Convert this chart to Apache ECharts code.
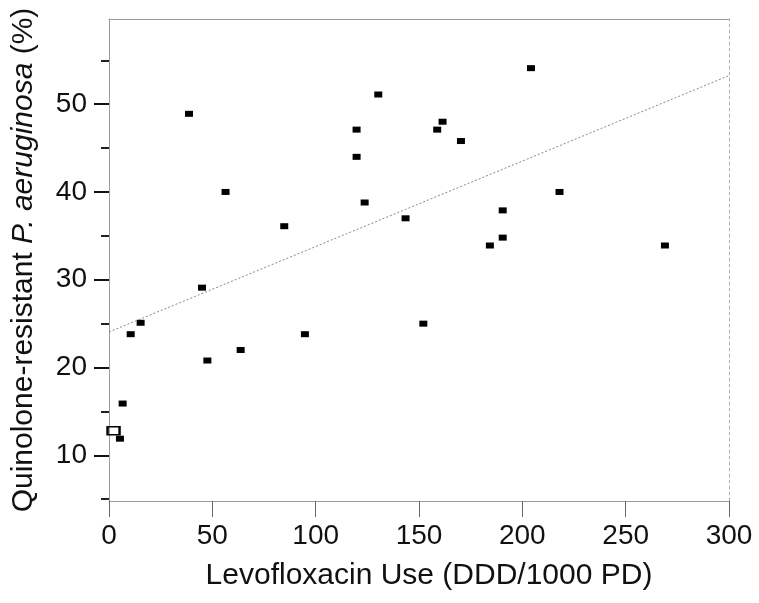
<!DOCTYPE html>
<html>
<head>
<meta charset="utf-8">
<script src="https://cdn.jsdelivr.net/npm/echarts@6/dist/echarts.min.js"></script>
<style>
html,body{margin:0;padding:0;background:#fff;}
#chart{width:759px;height:603px;}
</style>
</head>
<body>
<div id="chart"></div>
<script>
// Levofloxacin use (DDD/1000 PD) per hospital
const levoUse = [38.7, 56.4, 84.8, 45.0, 119.8, 119.8, 123.7, 130.3, 204.2, 161.4, 158.8, 170.3, 218.0,
  143.5, 190.5, 190.5, 184.3, 269.0, 152.1, 15.3, 10.5, 47.6, 63.7, 94.8, 6.6, 5.3];
// Quinolone-resistant P. aeruginosa (%)
const resistance = [48.9, 40.0, 36.1, 29.1, 47.1, 44.0, 38.8, 51.1, 54.1, 48.0, 47.1, 45.8, 40.0,
  37.0, 37.9, 34.8, 33.9, 33.9, 25.0, 25.1, 23.8, 20.8, 22.0, 23.8, 15.9, 11.9];
// open-square point
const openX = [2.2];
const openY = [12.8];
// regression line end points
const trendX = [0, 300];
const trendY = [24.05, 53.25];
// ticks
const xTicks = [0, 50, 100, 150, 200, 250, 300];
const yMajorTicks = [10, 20, 30, 40, 50];
const yMinorTicks = [5, 15, 25, 35, 45, 55];

const FONT = "'Liberation Sans', Arial, Helvetica, sans-serif";
const chart = echarts.init(document.getElementById('chart'), null, {renderer: 'canvas'});
const yMin = 4.8, yMax = 59.7;

const option = {
  animation: false,
  backgroundColor: '#fff',
  grid: {left: 109, right: 30, top: 19, bottom: 102, containLabel: false},
  xAxis: [
    {
      type: 'value', position: 'bottom', min: 0, max: 300, interval: 50,
      axisLine: {show: true, lineStyle: {color: '#9a9a9a', width: 1}},
      axisTick: {show: true, length: 16, lineStyle: {color: '#666', width: 1}, customValues: xTicks},
      axisLabel: {fontSize: 28, color: '#111', margin: 21, fontFamily: FONT, customValues: xTicks},
      splitLine: {show: false},
      name: 'Levofloxacin Use (DDD/1000 PD)',
      nameLocation: 'middle', nameGap: 60,
      nameTextStyle: {fontSize: 30, color: '#111', fontFamily: FONT, padding: [0, 0, 0, 20]}
    },
    {
      type: 'value', position: 'top', min: 0, max: 300,
      axisLine: {show: true, lineStyle: {color: '#9a9a9a', width: 1}},
      axisTick: {show: false}, axisLabel: {show: false}, splitLine: {show: false}
    }
  ],
  yAxis: [
    {
      type: 'value', position: 'left', min: yMin, max: yMax,
      axisLine: {show: true, lineStyle: {color: '#9a9a9a', width: 1}},
      axisTick: {show: true, length: 15, lineStyle: {color: '#111', width: 2}, customValues: yMajorTicks},
      axisLabel: {fontSize: 28, color: '#111', margin: 22, fontFamily: FONT, customValues: yMajorTicks},
      splitLine: {show: false},
      name: 'Quinolone-resistant {i|P. aeruginosa} (%)',
      nameLocation: 'middle', nameGap: 70,
      nameTextStyle: {
        fontSize: 30, color: '#111', fontFamily: FONT, padding: [0, 0, 0, 0],
        rich: {i: {fontSize: 30, color: '#111', fontFamily: FONT, fontStyle: 'italic'}}
      }
    },
    {
      type: 'value', position: 'left', min: yMin, max: yMax,
      axisLine: {show: false},
      axisTick: {show: true, length: 8, lineStyle: {color: '#222', width: 2}, customValues: yMinorTicks},
      axisLabel: {show: false}, splitLine: {show: false}
    },
    {
      type: 'value', position: 'right', min: yMin, max: yMax,
      axisLine: {show: true, lineStyle: {color: '#b0b0b0', width: 1, type: [3, 3]}},
      axisTick: {show: false}, axisLabel: {show: false}, splitLine: {show: false}
    }
  ],
  series: [
    {
      type: 'line', xAxisIndex: 0, yAxisIndex: 0,
      data: trendX.map((x, i) => [x, trendY[i]]),
      symbol: 'none', silent: true,
      lineStyle: {color: '#888', width: 1, type: [2, 2]}
    },
    {
      type: 'scatter', xAxisIndex: 0, yAxisIndex: 0,
      data: levoUse.map((x, i) => [x, resistance[i]]),
      symbol: 'rect', symbolSize: [8, 6],
      itemStyle: {color: '#000', opacity: 1}
    },
    {
      type: 'scatter', xAxisIndex: 0, yAxisIndex: 0,
      data: openX.map((x, i) => [x, openY[i]]),
      symbol: 'rect', symbolSize: [12, 8],
      itemStyle: {color: 'rgba(255,255,255,0)', borderColor: '#000', borderWidth: 2, opacity: 1}
    }
  ]
};
chart.setOption(option);
</script>
</body>
</html>
